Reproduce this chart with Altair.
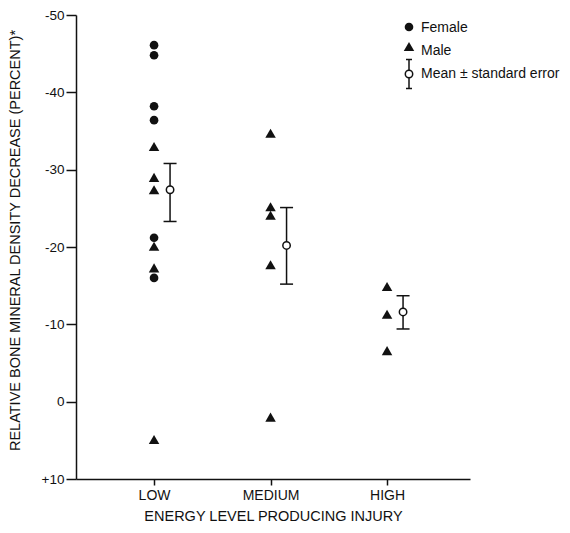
import altair as alt
import pandas as pd

# ---- data ----
categories = ["LOW", "MEDIUM", "HIGH"]
cat_pos = [1, 2, 3]
low_female = [-46.1, -44.8, -38.2, -36.4, -21.2, -16.0]
low_male = [-33.0, -29.0, -27.4, -20.1, -17.3, 4.9]
medium_male = [-34.7, -25.2, -24.1, -17.7, 2.0]
high_male = [-14.9, -11.3, -6.6]
mean_values = [-27.4, -20.2, -11.6]
se_top = [-30.8, -25.1, -13.7]
se_bottom = [-23.3, -15.2, -9.4]
y_ticks = [-50, -40, -30, -20, -10, 0, 10]
legend_labels = ["Female", "Male", "Mean \u00b1 standard error"]
x_title = "ENERGY LEVEL PRODUCING INJURY"
y_title = "RELATIVE BONE MINERAL DENSITY DECREASE (PERCENT)*"

FONT = "Liberation Sans"
INK = "#111111"

pos = dict(zip(categories, cat_pos))
rows = []
for cat, sex, vals in [("LOW", "Female", low_female), ("LOW", "Male", low_male),
                       ("MEDIUM", "Male", medium_male), ("HIGH", "Male", high_male)]:
    for v in vals:
        rows.append({"cat": cat, "sex": sex, "val": v, "pos": pos[cat]})
pts = pd.DataFrame(rows)
means = pd.DataFrame({"cat": categories, "pos": cat_pos, "mean": mean_values,
                      "top": se_top, "bottom": se_bottom})

xs = alt.Scale(domain=[0.33, 3.712], nice=False, zero=False)
ys = alt.Scale(domain=[-50, 10], reverse=True, nice=False, zero=False)

label_expr_x = " : ".join(
    [f"datum.value == {p} ? '{c}'" for p, c in zip(cat_pos[:-1], categories[:-1])]
) + f" : '{categories[-1]}'"

x_axis = alt.Axis(values=cat_pos, labelExpr=label_expr_x, title=x_title, grid=False,
                  tickSize=6, labelPadding=3, titlePadding=7, labelFontSize=14, titleFontSize=14.5)
y_axis = alt.Axis(values=y_ticks, labelExpr="datum.value > 0 ? '+' + datum.value : '' + datum.value",
                  title=y_title, grid=False, tickSize=10, labelPadding=2, titlePadding=19,
                  titleY=225, labelFontSize=13.5, titleFontSize=14.5)


def X(f="pos:Q"):
    return alt.X(f, scale=xs, axis=x_axis)


def Y(f):
    return alt.Y(f, scale=ys, axis=y_axis)


female = alt.Chart(pts).transform_filter("datum.sex == 'Female'").mark_point(
    shape="circle", filled=True, color=INK, opacity=1, size=75
).encode(x=X(), y=Y("val:Q"))

male = alt.Chart(pts).transform_filter("datum.sex == 'Male'").mark_point(
    shape="triangle-up", filled=True, color=INK, opacity=1, size=110
).encode(x=X(), y=Y("val:Q"))

OFF = 16
err = alt.Chart(means).mark_rule(color=INK, strokeWidth=1.5, xOffset=OFF, x2Offset=OFF).encode(
    x=X(), y=Y("top:Q"), y2="bottom:Q"
)
cap_top = alt.Chart(means).mark_rule(color=INK, strokeWidth=1.5, xOffset=OFF - 6.5, x2Offset=OFF + 6.5).encode(
    x=X(), x2="pos:Q", y=Y("top:Q")
)
cap_bot = alt.Chart(means).mark_rule(color=INK, strokeWidth=1.5, xOffset=OFF - 6.5, x2Offset=OFF + 6.5).encode(
    x=X(), x2="pos:Q", y=Y("bottom:Q")
)
mean_pt = alt.Chart(means).mark_point(
    shape="circle", filled=True, fill="white", stroke=INK, strokeWidth=1.5, opacity=1, size=55, xOffset=OFF
).encode(x=X(), y=Y("mean:Q"))

# ---- hand-made legend (top right, inside the plot) ----
one = alt.Data(values=[{"k": 0}])
LX, TX = 333, 345
leg = [
    alt.Chart(one).mark_point(shape="circle", filled=True, color=INK, opacity=1, size=75).encode(
        x=alt.value(LX), y=alt.value(12)),
    alt.Chart(one).mark_point(shape="triangle-up", filled=True, color=INK, opacity=1, size=110).encode(
        x=alt.value(LX), y=alt.value(31.5)),
    alt.Chart(one).mark_rule(color=INK, strokeWidth=1.5).encode(
        x=alt.value(LX), y=alt.value(44.5), y2=alt.value(73.5)),
    alt.Chart(one).mark_rule(color=INK, strokeWidth=1.5).encode(
        x=alt.value(LX - 3), x2=alt.value(LX + 3), y=alt.value(44.5)),
    alt.Chart(one).mark_rule(color=INK, strokeWidth=1.5).encode(
        x=alt.value(LX - 3), x2=alt.value(LX + 3), y=alt.value(73.5)),
    alt.Chart(one).mark_point(shape="circle", filled=True, fill="white", stroke=INK, strokeWidth=1.5,
                              opacity=1, size=55).encode(x=alt.value(LX), y=alt.value(59)),
]
for lab, yy in zip(legend_labels, [12.5, 36, 59]):
    leg.append(alt.Chart(one).mark_text(text=lab, align="left", baseline="middle", font=FONT,
                                        fontSize=14, color=INK).encode(x=alt.value(TX), y=alt.value(yy)))

chart = alt.layer(female, male, err, cap_top, cap_bot, mean_pt, *leg).properties(
    width=394, height=464,
    autosize=alt.AutoSizeParams(type="none"),
    padding={"left": 68, "top": 7, "right": 92, "bottom": 50},
).configure_view(stroke=None).configure_axis(
    domainColor=INK, domainWidth=1.5, tickColor=INK, tickWidth=1.5,
    labelFont=FONT, labelColor=INK,
    titleFont=FONT, titleColor=INK, titleFontWeight="normal",
)

chart.save("out.html", embed_options={"renderer": "svg", "actions": False})
